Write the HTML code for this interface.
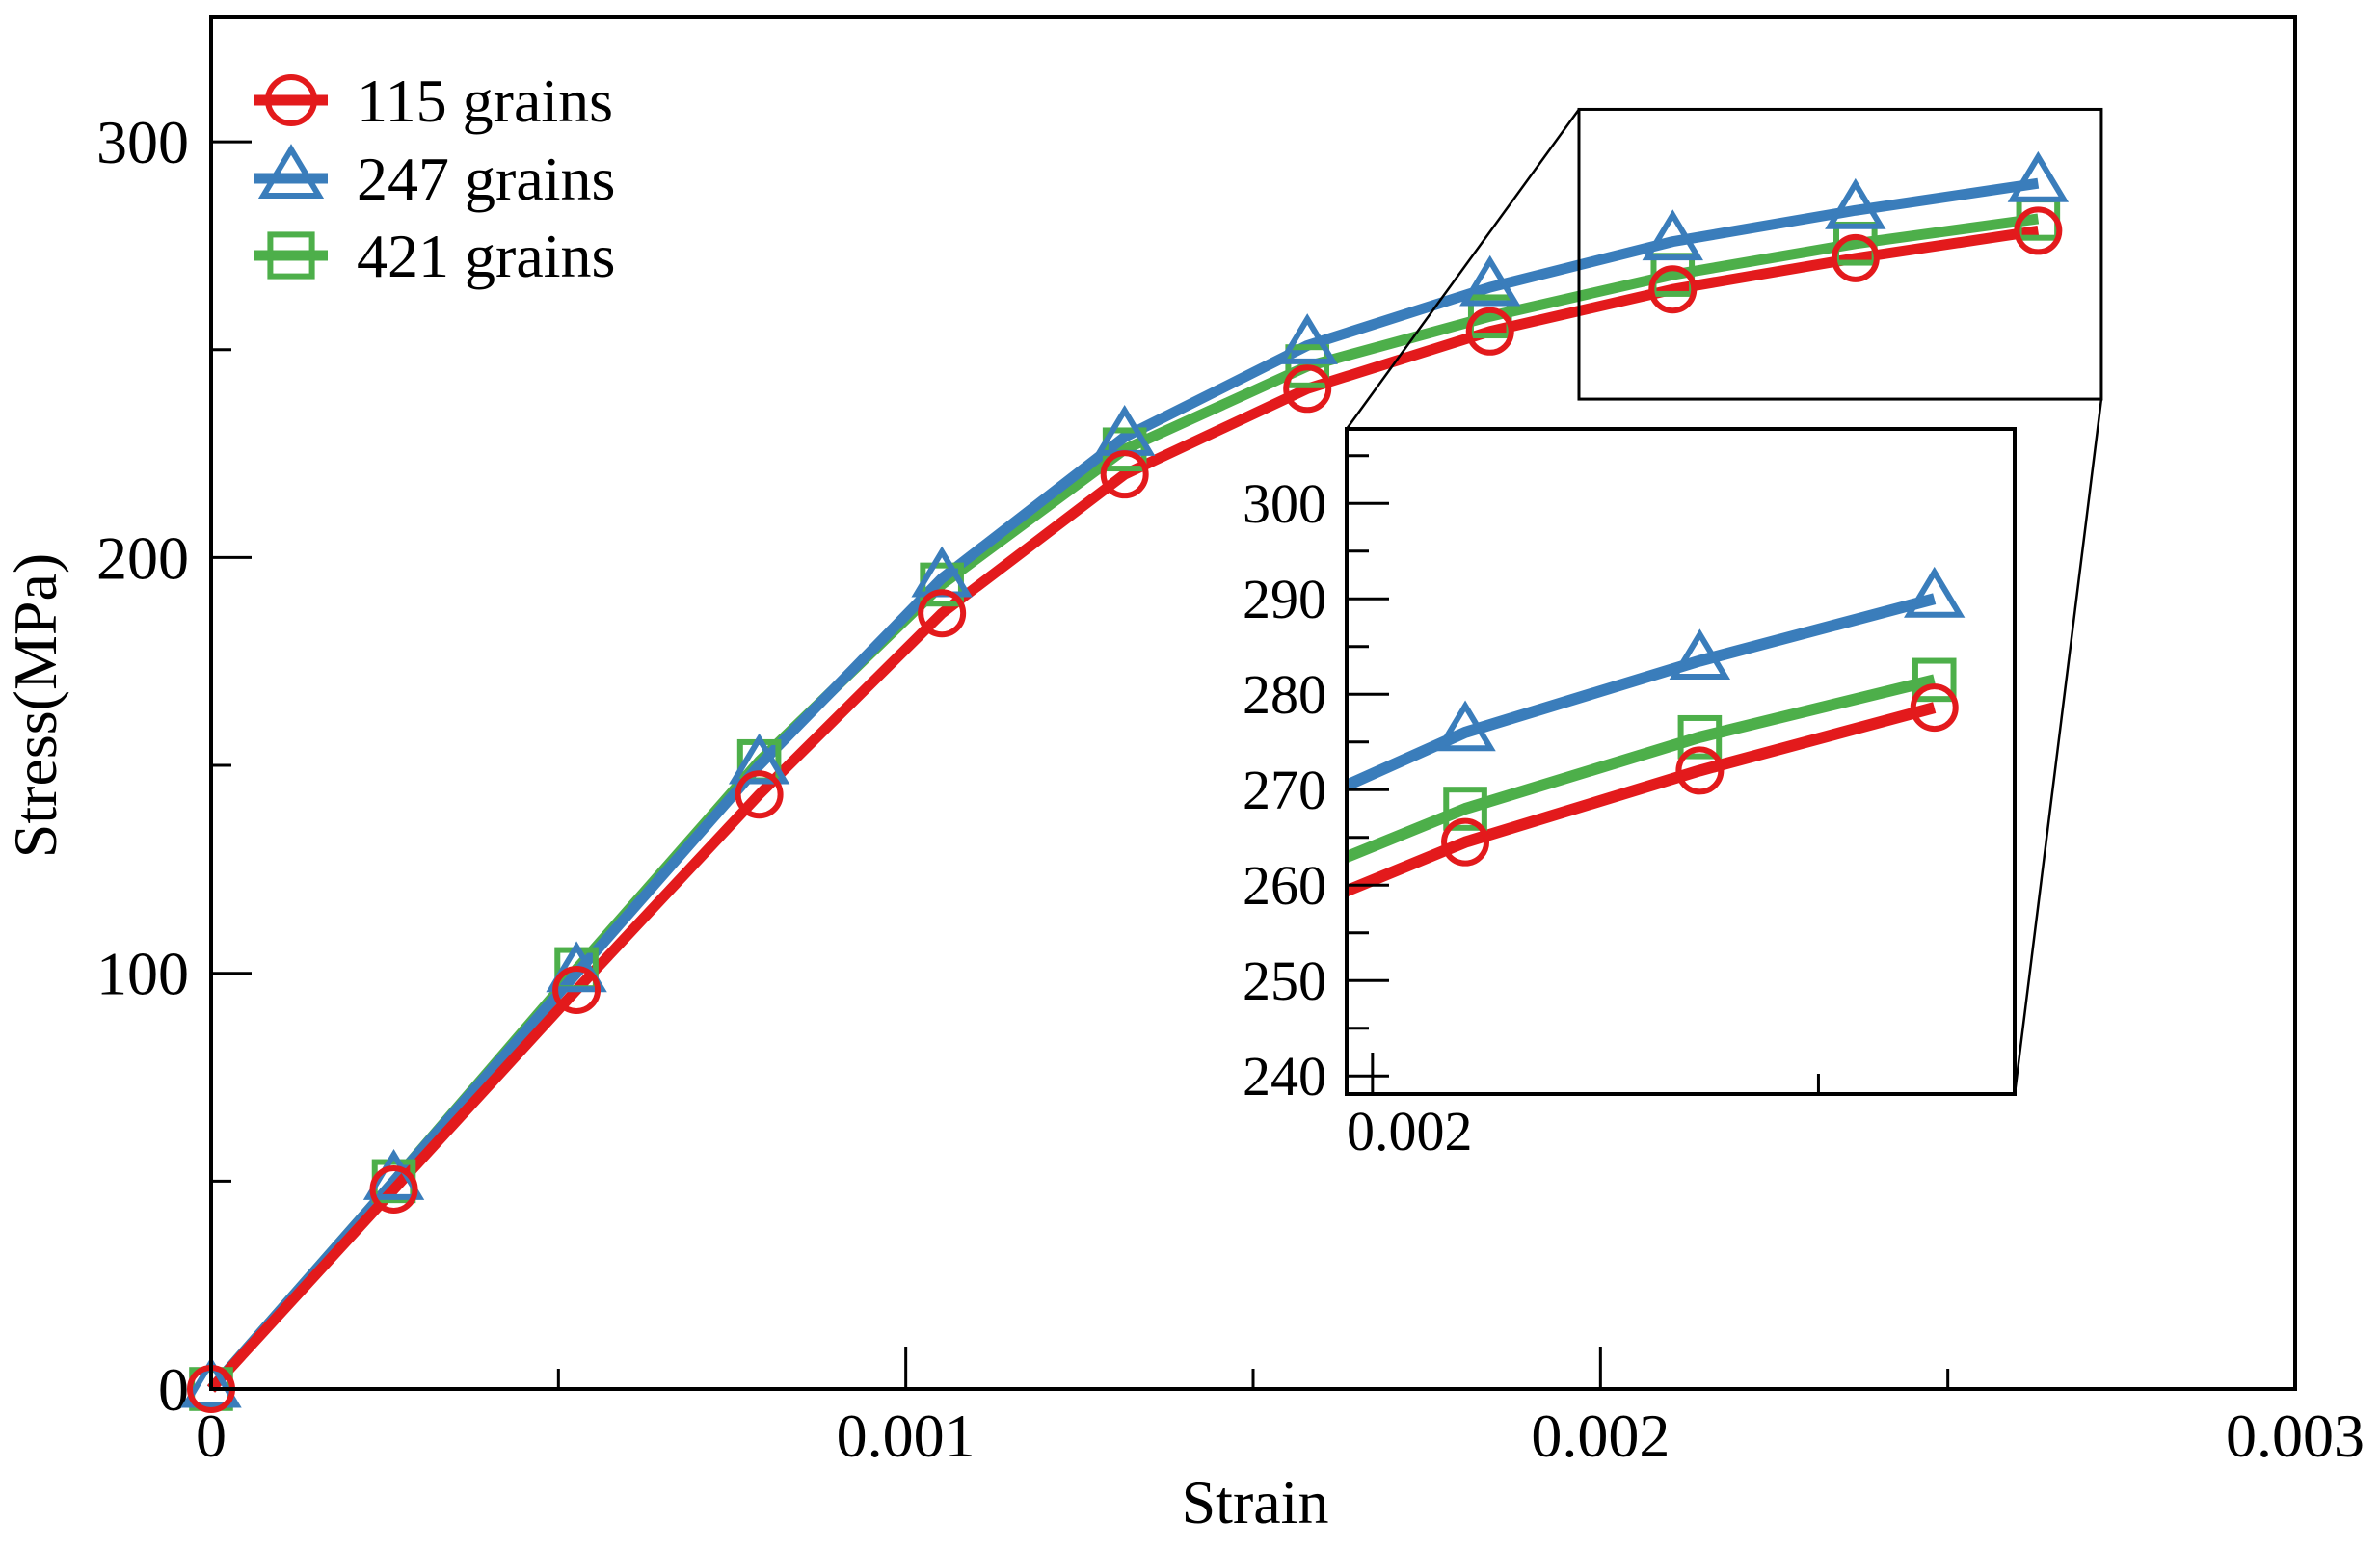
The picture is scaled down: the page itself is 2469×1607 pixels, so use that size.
<!DOCTYPE html>
<html><head><meta charset="utf-8"><style>
html,body{margin:0;padding:0;background:#fff;overflow:hidden;width:2469px;height:1607px}
svg{display:block;position:absolute;left:0;top:0}
text{font-family:"Liberation Serif",serif;fill:#000}
</style></head><body>
<svg id="chart" width="2469" height="1607" viewBox="0 0 2469 1607" xmlns="http://www.w3.org/2000/svg">
<g id="main"></g>
<g id="inset"></g>
<g id="legend"></g>
</svg>
<script>
const strains = [0,0.000263,0.000526,0.000789,0.001052,0.001315,0.001578,0.001841,0.002104,0.002367,0.00263];
const stress115 = [0,48,96,143,186.6,220,240.6,254.4,264.5,272,278.6];
const stress247 = [0,50,100,150,195,229,251,265,276,283.5,290];
const stress421 = [0,50,101,151,193.5,226,246,258,268,275.5,281.5];
const seriesNames = ["115 grains","247 grains","421 grains"];
const xTickLabels = ["0","0.001","0.002","0.003"];
const yTickLabels = ["0","100","200","300"];
const insetYTickLabels = ["240","250","260","270","280","290","300"];
const insetXTickLabels = ["0.002"];

const NS="http://www.w3.org/2000/svg";
function mk(parent,tag,attrs){const e=document.createElementNS(NS,tag);for(const k in attrs)e.setAttribute(k,attrs[k]);parent.appendChild(e);return e;}
const colors=["#e31a1c","#3a7dbb","#4daf4a"];
const markers=["circle","triangle","square"];
const data=[stress115,stress247,stress421];

const M={l:219,r:2381,t:18,b:1441,x0:0,x1:0.003,y0:0,y1:330};
M.y1 = (M.b-M.t)/4.313;
function mx(v){return M.l+(v-M.x0)/(M.x1-M.x0)*(M.r-M.l);}
function my(v){return M.b-(v-M.y0)/(M.y1-M.y0)*(M.b-M.t);}
const I={l:1397,r:2090,t:445,b:1135,x0:0.001971,x1:0.00272,y0:238.1,y1:307.8};
function ix(v){return I.l+(v-I.x0)/(I.x1-I.x0)*(I.r-I.l);}
function iy(v){return I.b-(v-I.y0)/(I.y1-I.y0)*(I.b-I.t);}

function marker(g,type,x,y,color,r){
  let e;
  if(type==="circle") e=mk(g,"circle",{cx:x,cy:y,r:r,fill:"none",stroke:color,"stroke-width":6});
  else if(type==="triangle") e=mk(g,"polygon",{points:`${x},${y-r*1.25} ${x-r*1.2},${y+r*0.75} ${x+r*1.2},${y+r*0.75}`,fill:"none",stroke:color,"stroke-width":6});
  else e=mk(g,"rect",{x:x-r*0.9,y:y-r*0.9,width:r*1.8,height:r*1.8,fill:"none",stroke:color,"stroke-width":6});
  return e;
}

const main=document.getElementById('main');
for(let i=0;i<=6;i++){const v=i*0.0005;const x=mx(v);const L=i%2===0?44:21;
  const t=mk(main,"line",{x1:x,y1:M.b,x2:x,y2:M.b-L,stroke:"#000","stroke-width":3});
  
  }
xTickLabels.forEach((s,i)=>{const t=mk(main,"text",{x:mx(i*0.001),y:1511,"font-size":64,"text-anchor":"middle"});t.textContent=s;
  
  });
for(let i=0;i<=6;i++){const v=i*50;const y=my(v);const L=i%2===0?42:21;
  const t=mk(main,"line",{x1:M.l,y1:y,x2:M.l+L,y2:y,stroke:"#000","stroke-width":3});
  
  }
yTickLabels.forEach((s,i)=>{const t=mk(main,"text",{x:196,y:my(i*100)+22,"font-size":64,"text-anchor":"end"});t.textContent=s;
  
  });
let xt=mk(main,"text",{x:1302,y:1580,"font-size":64,"text-anchor":"middle"});xt.textContent="Strain";


let yt=mk(main,"text",{x:0,y:0,"font-size":64,"text-anchor":"middle",transform:"translate(58,732) rotate(-90)"});yt.textContent="Stress(MPa)";



function drawSeries(g,X,Y,clip,r,lw){
  data.forEach((arr,k)=>{
    const sg=mk(g,"g",clip?{"clip-path":clip}:{});
    
    
    const pts=strains.map((s,i)=>X(s)+","+Y(arr[i])).join(" ");
    const pl=mk(sg,"polyline",{points:pts,fill:"none",stroke:colors[k],"stroke-width":lw,"stroke-linejoin":"round"});
    
    
  });
  data.forEach((arr,k)=>{
    const mg=mk(g,"g",clip?{"clip-path":clip}:{});
    strains.forEach((s,i)=>{const m=marker(mg,markers[k],X(s),Y(arr[i]),colors[k],r);
      
      });
  });
}
data.reverse();colors.reverse();markers.reverse();seriesNames.reverse();
drawSeries(main,mx,my,null,22,11);
let fr=mk(main,"rect",{x:M.l,y:M.t,width:M.r-M.l,height:M.b-M.t,fill:"none",stroke:"#000","stroke-width":4});


const bx1=mx(0.001969),bx2=mx(0.002721),by1=my(I.y1),by2=my(I.y0);
let zb=mk(main,"rect",{x:bx1,y:by1,width:bx2-bx1,height:by2-by1,fill:"none",stroke:"#000","stroke-width":3});


let c1=mk(main,"line",{x1:bx1,y1:by1,x2:I.l,y2:I.t,stroke:"#000","stroke-width":2.5});


let c2=mk(main,"line",{x1:bx2,y1:by2,x2:I.r,y2:I.b,stroke:"#000","stroke-width":2.5});



const inset=document.getElementById('inset');
mk(inset,"rect",{x:I.l,y:I.t,width:I.r-I.l,height:I.b-I.t,fill:"#fff"});
const defs=mk(document.getElementById('chart'),"defs",{});
const cp=mk(defs,"clipPath",{id:"ic"});
mk(cp,"rect",{x:I.l,y:I.t,width:I.r-I.l,height:I.b-I.t});
drawSeries(inset,ix,iy,"url(#ic)",22,12);
for(let v=240;v<=305;v+=5){const y=iy(v);const L=(v%10===0)?44:23;
  const t=mk(inset,"line",{x1:I.l,y1:y,x2:I.l+L,y2:y,stroke:"#000","stroke-width":3});
  
  }
insetYTickLabels.forEach(s=>{const t=mk(inset,"text",{x:1376,y:iy(+s)+20,"font-size":58,"text-anchor":"end"});t.textContent=s;
  
  });
[[0.002,43],[0.0025,21]].forEach(([v,L])=>{const x=ix(v);
  const t=mk(inset,"line",{x1:x,y1:I.b,x2:x,y2:I.b-L,stroke:"#000","stroke-width":3});
  
  });
insetXTickLabels.forEach(s=>{const t=mk(inset,"text",{x:1397,y:1193,"font-size":58,"text-anchor":"start"});t.textContent=s;
  
  });
let ifr=mk(inset,"rect",{x:I.l,y:I.t,width:I.r-I.l,height:I.b-I.t,fill:"none",stroke:"#000","stroke-width":4});



data.reverse();colors.reverse();markers.reverse();seriesNames.reverse();
const leg=document.getElementById('legend');
seriesNames.forEach((n,k)=>{const y=[104,185,265][k];
  const g=mk(leg,"g",{});
  
  
  mk(g,"line",{x1:264,y1:y,x2:340,y2:y,stroke:colors[k],"stroke-width":11});
  marker(g,markers[k],302,y,colors[k],24);
  const t=mk(g,"text",{x:370,y:y+22,"font-size":64});t.textContent=n;
});
</script>
</body></html>
